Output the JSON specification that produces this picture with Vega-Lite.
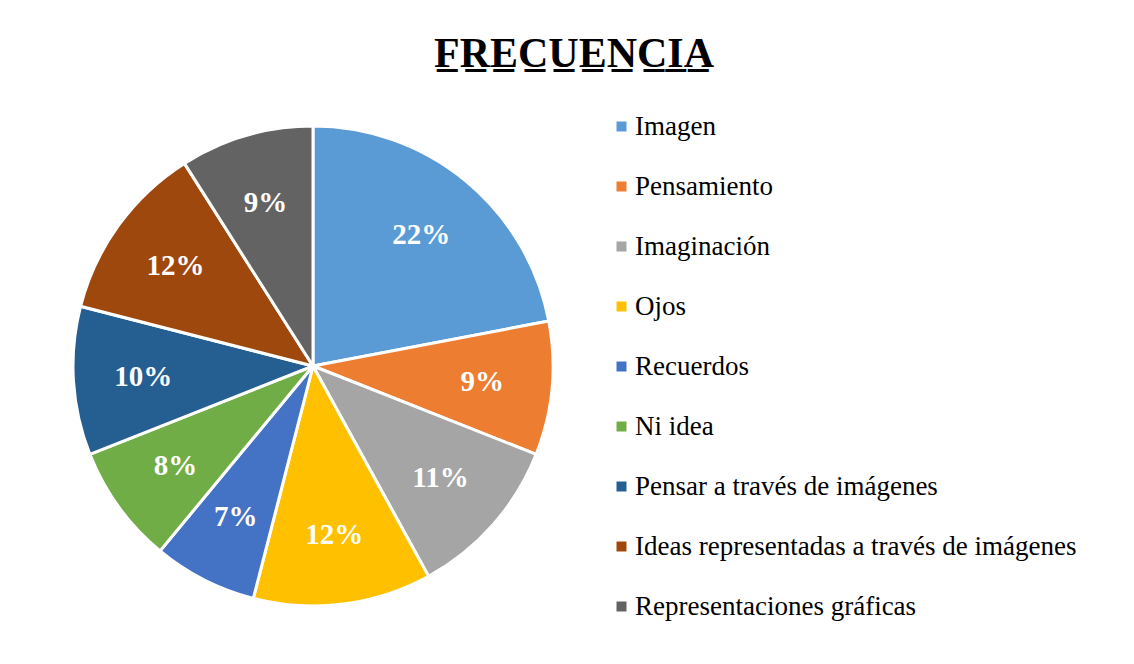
{
  "$schema": "https://vega.github.io/schema/vega-lite/v6.json",
  "autosize": "none",
  "width": 480,
  "height": 480,
  "padding": {"left": 73, "top": 126, "right": 581, "bottom": 58},
  "background": "white",
  "config": {
    "font": "Liberation Serif",
    "legend": {"labelFont": "Liberation Serif", "labelFontSize": 27}
  },
  "title": {
    "text": "F̲R̲E̲C̲U̲E̲N̲C̲I̲A̲",
    "font": "Liberation Serif",
    "fontSize": 42,
    "fontWeight": "bold",
    "color": "#000000",
    "anchor": "middle",
    "frame": "group",
    "dx": 261,
    "baseline": "alphabetic",
    "offset": 4
  },
  "data": {
    "values": [
      {"orden": 1, "categoria": "Imagen", "valor": 0.22},
      {"orden": 2, "categoria": "Pensamiento", "valor": 0.09},
      {"orden": 3, "categoria": "Imaginación", "valor": 0.11},
      {"orden": 4, "categoria": "Ojos", "valor": 0.12},
      {"orden": 5, "categoria": "Recuerdos", "valor": 0.07},
      {"orden": 6, "categoria": "Ni idea", "valor": 0.08},
      {"orden": 7, "categoria": "Pensar a través de imágenes", "valor": 0.10},
      {"orden": 8, "categoria": "Ideas representadas a través de imágenes", "valor": 0.12},
      {"orden": 9, "categoria": "Representaciones gráficas", "valor": 0.09}
    ]
  },
  "encoding": {
    "theta": {"field": "valor", "type": "quantitative", "stack": true},
    "order": {"field": "orden", "type": "quantitative"}
  },
  "layer": [
    {
      "mark": {"type": "arc", "outerRadius": 240, "stroke": "white", "strokeWidth": 3},
      "encoding": {
        "color": {
          "field": "categoria",
          "type": "nominal",
          "sort": null,
          "scale": {
            "domain": ["Imagen", "Pensamiento", "Imaginación", "Ojos", "Recuerdos", "Ni idea", "Pensar a través de imágenes", "Ideas representadas a través de imágenes", "Representaciones gráficas"],
            "range": ["#5B9BD5", "#ED7D31", "#A5A5A5", "#FFC000", "#4472C4", "#70AD47", "#255E91", "#9E480E", "#636363"]
          },
          "legend": {
            "orient": "none",
            "legendX": 535,
            "legendY": -13,
            "title": null,
            "symbolType": "square",
            "symbolSize": 100,
            "symbolStrokeWidth": 0,
            "symbolOpacity": 1,
            "labelFont": "Liberation Serif",
            "labelFontSize": 27,
            "labelColor": "#000000",
            "labelOffset": 0,
            "labelLimit": 0,
            "rowPadding": 32,
            "padding": 0
          }
        }
      }
    },
    {
      "mark": {"type": "text", "radius": 170, "font": "Liberation Serif", "fontSize": 29, "fontWeight": "bold", "baseline": "middle", "align": "center"},
      "encoding": {
        "text": {"field": "valor", "type": "quantitative", "format": ".0%"},
        "color": {"value": "white"}
      }
    }
  ]
}
